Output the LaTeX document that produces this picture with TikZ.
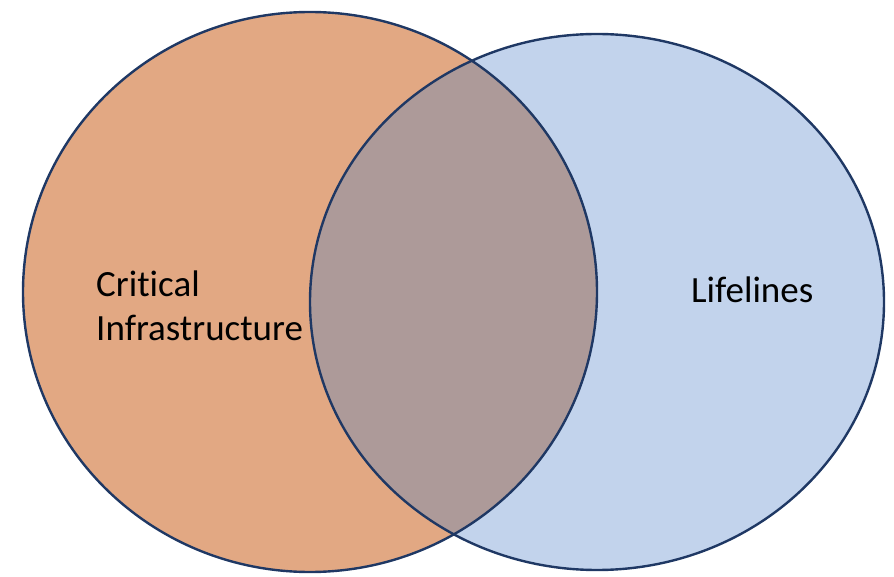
\documentclass[tikz,border=0pt]{standalone}
\usepackage{fontspec}
\setmainfont{Carlito}[Ligatures=NoCommon]
\usepackage{tikz}
\usepackage{xcolor}
\usetikzlibrary{positioning}
\definecolor{InfraOrange}{HTML}{E2A883}
\definecolor{LifeBlue}{HTML}{C2D3EC}
\definecolor{OverlapMauve}{HTML}{AD9A99}
\definecolor{RimNavy}{HTML}{1F3864}

\begin{document}
\begin{tikzpicture}[
      x=1pt,
      y=1pt,
      font=\fontsize{37}{44}\selectfont,
      rim/.style={draw=RimNavy,line width=2.4pt},
      label/.style={anchor=base west,inner sep=0pt,text=black}
    ]
      \useasboundingbox (0,0) rectangle (894,576);
      \fill[InfraOrange] (310,284) ellipse [x radius=287,y radius=280];
      \fill[LifeBlue] (597,274) ellipse [x radius=287,y radius=268];
      \begin{scope}
        \clip (310,284) ellipse [x radius=287,y radius=280];
        \fill[OverlapMauve] (597,274) ellipse [x radius=287,y radius=268];
      \end{scope}
      \draw[rim] (310,284) ellipse [x radius=287,y radius=280];
      \draw[rim] (597,274) ellipse [x radius=287,y radius=268];
      \node[label] (crit) at (96,279) {Critical};
      \node[label] (infra) at (96,235) {Infrastructure};
      \node[label] (life) at (691,273) {Lifelines};
    \end{tikzpicture}
\end{document}
